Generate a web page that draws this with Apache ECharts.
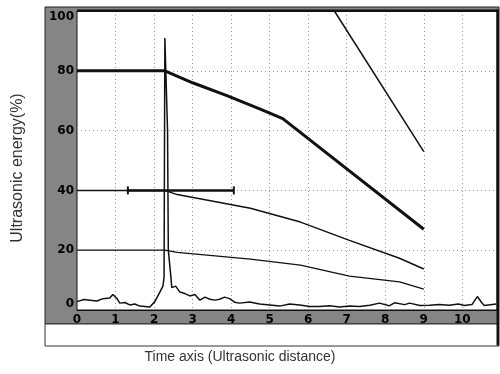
<!DOCTYPE html>
<html>
<head>
<meta charset="utf-8">
<script src="https://cdn.jsdelivr.net/npm/echarts@6/dist/echarts.min.js"></script>
<style>
  html, body { margin: 0; padding: 0; background: #fff; }
  #chart { width: 500px; height: 374px; }
</style>
</head>
<body>
<div id="chart"></div>
<script>
// energy curves, [distance, energy %]
const curve80 = [[0, 80], [2.28, 80], [3.0, 76], [3.89, 71.7], [4.74, 67.3], [5.34, 64], [9.0, 27]];
const curveSteep = [[6.68, 100], [9.0, 53]];
const curve40 = [[0, 40], [2.28, 40], [2.6, 38.6], [4.5, 34], [5.8, 29.4], [7.07, 23.3], [8.37, 17.3], [9.0, 13.7]];
const curve20 = [[0, 20], [2.28, 20], [2.6, 19.3], [4.5, 17], [5.8, 15], [7.07, 11.3], [8.37, 9.4], [9.0, 7]];

// cursor marker on the 40% level
const cursorX = [1.32, 4.07];
const cursorLevel = 40;

// measured echo signal
const signal = [
  [0, 2.8], [0.18, 3.5], [0.34, 3.3], [0.52, 3], [0.67, 3.8], [0.85, 4], [0.93, 5.2],
  [1.04, 3.8], [1.11, 2.3], [1.24, 2.5], [1.37, 1.7], [1.5, 2], [1.63, 1.3], [1.76, 1.2],
  [1.89, 1], [2.02, 2.8], [2.15, 6], [2.23, 8], [2.26, 11], [2.28, 91], [2.31, 91],
  [2.35, 60], [2.37, 20], [2.43, 12], [2.46, 7.5], [2.56, 8], [2.67, 6], [2.8, 5.5],
  [2.93, 4.7], [3.06, 5.2], [3.19, 3.3], [3.32, 4.3], [3.45, 3.6], [3.58, 3.3],
  [3.7, 3.6], [3.83, 4.3], [3.96, 3.8], [4.09, 2.6], [4.22, 2.3], [4.48, 2.7],
  [4.74, 2], [5.0, 1.7], [5.26, 1.3], [5.52, 2], [5.78, 1.7], [6.04, 1.2], [6.3, 1.2],
  [6.55, 1.4], [6.81, 1], [7.07, 1.3], [7.33, 1.2], [7.6, 1.6], [7.85, 2.3], [8.1, 1.4],
  [8.24, 2.4], [8.5, 1.8], [8.63, 2.3], [8.9, 1.5], [9.15, 1.6], [9.4, 1.8], [9.66, 1.6],
  [9.9, 2], [10.05, 1.5], [10.25, 1.8], [10.39, 4.5], [10.5, 2.5], [10.57, 1.5], [10.88, 2]
];

const xMin = 0, xMax = 10.9;
const yMin = 0, yMax = 100;

const chart = echarts.init(document.getElementById('chart'));

const lineColor = '#111';

const option = {
  animation: false,
  backgroundColor: '#fff',
  grid: {
    left: 77, right: 3, top: 11, bottom: 64,
    show: true,
    backgroundColor: 'transparent',
    borderColor: '#111',
    borderWidth: 1
  },
  graphic: [
    {
      type: 'rect', z: -10,
      shape: { x: 45, y: 7, width: 454, height: 317 },
      style: { fill: '#858585', stroke: '#222', lineWidth: 1 }
    },
    {
      type: 'rect', z: -9,
      shape: { x: 77, y: 11, width: 420, height: 299 },
      style: { fill: '#fff' }
    },
    {
      type: 'rect', z: -10,
      shape: { x: 45, y: 324, width: 454, height: 22 },
      style: { fill: '#fff', stroke: '#333', lineWidth: 1 }
    },
    {
      type: 'rect', z: 50,
      shape: { x: 77, y: 9.5, width: 421, height: 2.5 },
      style: { fill: '#111' }
    },
    {
      type: 'rect', z: 50,
      shape: { x: 496.5, y: 9.5, width: 2.5, height: 336 },
      style: { fill: '#111' }
    },
    {
      type: 'text', z: 50,
      x: 18, y: 168, rotation: Math.PI / 2,
      style: {
        text: 'Ultrasonic energy(%)',
        fill: '#333',
        font: '16px "Liberation Sans", Arial, sans-serif',
        align: 'center', verticalAlign: 'middle'
      }
    },
    {
      type: 'text', z: 50,
      x: 240, y: 357,
      style: {
        text: 'Time axis (Ultrasonic distance)',
        fill: '#333',
        font: '14px "Liberation Sans", Arial, sans-serif',
        align: 'center', verticalAlign: 'middle'
      }
    }
  ],
  xAxis: {
    type: 'value',
    min: xMin, max: xMax, interval: 1,
    axisLine: { show: true, onZero: false, lineStyle: { color: '#111', width: 1 } },
    axisTick: { show: false },
    axisLabel: {
      showMaxLabel: false,
      margin: 4,
      color: '#000',
      fontWeight: 'bold',
      fontSize: 12,
      fontFamily: 'DejaVu Sans'
    },
    splitLine: { show: true, lineStyle: { color: '#999', type: [1, 3], width: 1 } }
  },
  yAxis: {
    type: 'value',
    min: yMin, max: yMax, interval: 20,
    axisLine: { show: false },
    axisTick: { show: false },
    axisLabel: {
      margin: 3,
      color: '#000',
      fontWeight: 'bold',
      fontSize: 12,
      fontFamily: 'DejaVu Sans',
      verticalAlignMaxLabel: 'top',
      verticalAlignMinLabel: 'bottom'
    },
    splitLine: { show: true, lineStyle: { color: '#999', type: [1, 3], width: 1 } }
  },
  series: [
    {
      type: 'line', data: curve80, symbol: 'none', z: 5,
      lineStyle: { color: lineColor, width: 3 }
    },
    {
      type: 'line', data: curveSteep, symbol: 'none', z: 5,
      lineStyle: { color: lineColor, width: 1.5 }
    },
    {
      type: 'line', data: curve40, symbol: 'none', z: 5,
      lineStyle: { color: lineColor, width: 1.5 }
    },
    {
      type: 'line', data: curve20, symbol: 'none', z: 5,
      lineStyle: { color: lineColor, width: 1.3 }
    },
    {
      type: 'line', data: cursorX.map(x => [x, cursorLevel]), z: 6,
      symbol: 'rect', symbolSize: [2, 8],
      itemStyle: { color: lineColor },
      lineStyle: { color: lineColor, width: 2.5 }
    },
    {
      type: 'line', data: signal, symbol: 'none', z: 6,
      lineStyle: { color: lineColor, width: 1.5 }
    }
  ]
};

chart.setOption(option);
</script>
</body>
</html>
